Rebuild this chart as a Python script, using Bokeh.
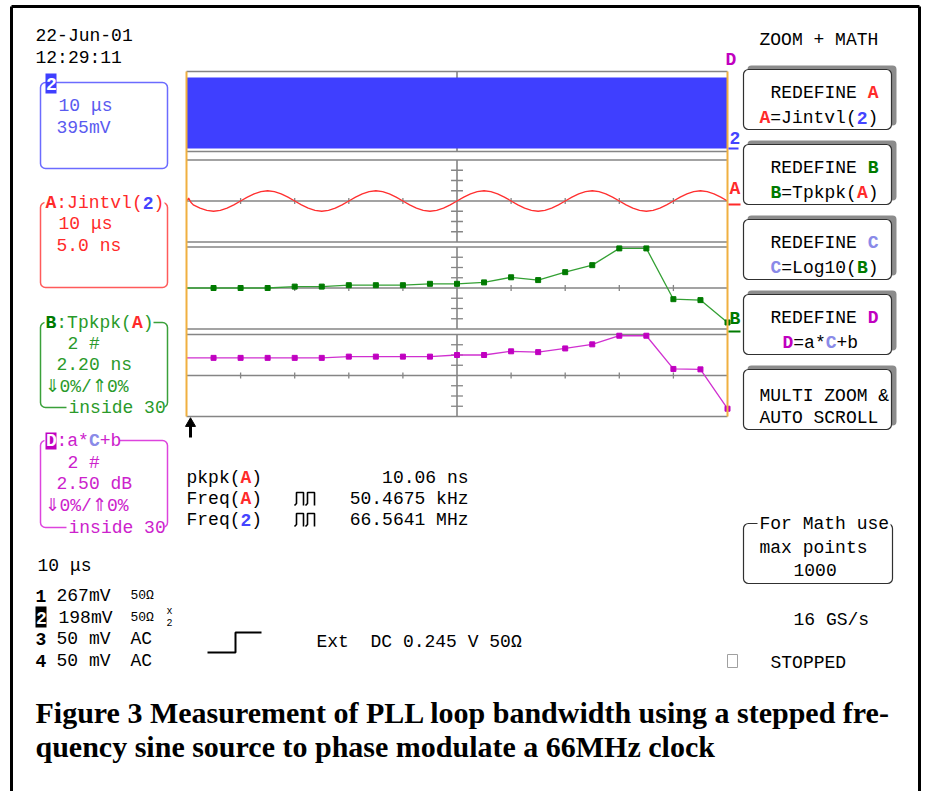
from bokeh.plotting import figure
from bokeh.models import Range1d, ColumnDataSource
from bokeh.core.properties import value
from bokeh.embed import file_html
from bokeh.resources import INLINE

# ---------------- data ----------------
stamp = ["22-Jun-01", "12:29:11"]

# channel 2: 66 MHz clock at 10 us/div, 395 mV/div -> drawn as its dense envelope
clk_t_us = [0, 100]
clk_hi_mV = [1340, 1340]
clk_lo_mV = [-1460, -1460]

# A = Jintvl(2), 5.0 ns/div
jit_t_us = [0, 0.4, 0.8, 1.25, 2.5, 3.75, 5, 6.25, 7.5, 8.75,
            10, 11.25, 12.5, 13.75, 15, 16.25, 17.5, 18.75,
            20, 21.25, 22.5, 23.75, 25, 26.25, 27.5, 28.75,
            30, 31.25, 32.5, 33.75, 35, 36.25, 37.5, 38.75,
            40, 41.25, 42.5, 43.75, 45, 46.25, 47.5, 48.75,
            50, 51.25, 52.5, 53.75, 55, 56.25, 57.5, 58.75,
            60, 61.25, 62.5, 63.75, 65, 66.25, 67.5, 68.75,
            70, 71.25, 72.5, 73.75, 75, 76.25, 77.5, 78.75,
            80, 81.25, 82.5, 83.75, 85, 86.25, 87.5, 88.75,
            90, 91.25, 92.5, 93.75, 95, 96.25, 97.5, 98.75, 100]
jit_ns = [0.0, 1.4, -0.6, -1.9, -3.5, -4.6, -5.0, -4.6, -3.5, -1.9,
          0.0, 1.9, 3.5, 4.6, 5.0, 4.6, 3.5, 1.9,
          0.0, -1.9, -3.5, -4.6, -5.0, -4.6, -3.5, -1.9,
          0.0, 1.9, 3.5, 4.6, 5.0, 4.6, 3.5, 1.9,
          0.0, -1.9, -3.5, -4.6, -5.0, -4.6, -3.5, -1.9,
          0.0, 1.9, 3.5, 4.6, 5.0, 4.6, 3.5, 1.9,
          0.0, -1.9, -3.5, -4.6, -5.0, -4.6, -3.5, -1.9,
          0.0, 1.9, 3.5, 4.6, 5.0, 4.6, 3.5, 1.9,
          0.0, -1.9, -3.5, -4.6, -5.0, -4.6, -3.5, -1.9,
          0.0, 1.9, 3.5, 4.6, 5.0, 4.6, 3.5, 1.9, 0.0]

# B = Tpkpk(A), 2.20 ns/div ; D = a*C+b, 2.50 dB/div (first sample = trace start)
trend_t_us = [0, 5, 10, 15, 20, 25, 30, 35, 40, 45, 50,
              55, 60, 65, 70, 75, 80, 85, 90, 95, 100]
tpk_ns = [10.0, 10.0, 10.0, 10.0, 10.3, 10.3, 10.6, 10.6, 10.6, 10.9, 10.9,
          11.2, 12.3, 11.7, 13.4, 14.9, 18.5, 18.5, 7.6, 7.4, 2.6]
gain_dB = [4.3, 4.3, 4.3, 4.3, 4.3, 4.3, 4.6, 4.6, 4.6, 4.6, 5.0,
           5.0, 5.9, 5.7, 6.6, 7.6, 9.7, 9.7, 1.6, 1.5, -8.1]

meas_labels = [("pkpk(", "A", ")"), ("Freq(", "A", ")"), ("Freq(", "2", ")")]
meas_values = ["10.06 ns", "50.4675 kHz", "66.5641 MHz"]

# ---------------- styles ----------------
MONO = "Liberation Mono"
FS = 18
CW = 0.6 * FS
BLUE, BLUE_T = "#3f3fff", "#5a5af0"
RED = "#ff2a2a"
GREEN, GREEN_D = "#34a034", "#007a00"
MAG, MAG_D = "#d030d0", "#c000c0"
LAV = "#8a8ae8"
GRAY = "#858585"
ORANGE = "#f0b040"

W, H = 925, 791
p = figure(width=W, height=H, x_range=Range1d(0, W), y_range=Range1d(H, 0),
           x_axis_type=None, y_axis_type=None, toolbar_location=None,
           output_backend="svg", min_border=0, outline_line_color=None)
p.background_fill_color = "white"
p.border_fill_color = "white"

# ---- scope display geometry ----
GX0, GX1 = 186, 727
t_per_px = 100.0 / (GX1 - GX0)
p.extra_x_ranges = {"t": Range1d(-GX0 * t_per_px, (W - GX0) * t_per_px)}
panels = {  # name: (centre px, px per div, units per div, centre value)
    "ch2": (111, 10.0, 395.0, 0.0),
    "A": (200.5, 10.25, 5.0, 0.0),
    "B": (287.5, 10.25, 2.2, 10.0),
    "D": (375.0, 10.25, 2.5, 0.0),
}
for name, (cpx, ppd, upd, cv) in panels.items():
    upp = upd / ppd
    p.extra_y_ranges[name] = Range1d(cv - (H - cpx) * upp, cv + cpx * upp)

# graticule
for name, (cpx, ppd, upd, cv) in panels.items():
    lo, hi = cv - 4 * upd, cv + 4 * upd
    kw = dict(x_range_name="t", y_range_name=name, line_color=GRAY)
    p.segment(x0=[0, 0, 0], x1=[100, 100, 100], y0=[lo, hi, cv], y1=[lo, hi, cv],
              line_width=1.6, **kw)
    p.segment(x0=[50], x1=[50], y0=[lo], y1=[hi], line_width=1.6, **kw)
    xt = [10, 20, 30, 40, 60, 70, 80, 90]
    p.segment(x0=xt, x1=xt, y0=[cv - 0.3 * upd] * 8, y1=[cv + 0.3 * upd] * 8,
              line_width=1.3, **kw)
    yt = [cv + k * upd for k in (-3, -2, -1, 1, 2, 3)]
    p.segment(x0=[48.9] * 6, x1=[51.1] * 6, y0=yt, y1=yt, line_width=1.3, **kw)

# traces
p.varea(x=clk_t_us, y1=clk_lo_mV, y2=clk_hi_mV, fill_color=BLUE,
        x_range_name="t", y_range_name="ch2")
p.line(jit_t_us, jit_ns, line_color="#ff3030", line_width=1.3,
       x_range_name="t", y_range_name="A")
p.line(trend_t_us, tpk_ns, line_color=GREEN, line_width=1.3,
       x_range_name="t", y_range_name="B")
p.scatter(trend_t_us[1:], tpk_ns[1:], marker="square", size=5, color=GREEN_D,
          x_range_name="t", y_range_name="B")
p.line(trend_t_us, gain_dB, line_color=MAG, line_width=1.3,
       x_range_name="t", y_range_name="D")
p.scatter(trend_t_us[1:], gain_dB[1:], marker="square", size=5, color=MAG_D,
          x_range_name="t", y_range_name="D")

# display edges, frame
p.segment(x0=[GX0, GX1], x1=[GX0, GX1], y0=[71, 71], y1=[416, 416],
          line_color=ORANGE, line_width=2)
p.segment(x0=[11, 11, 919], x1=[919, 11, 919], y0=[6, 6, 6], y1=[6, H, H],
          line_color="black", line_width=3)

# trace level markers right of the grid
p.segment(x0=[728, 728, 728], x1=[738, 740, 740], y0=[148, 204, 331], y1=[148, 204, 331],
          line_color=[BLUE, RED, GREEN_D], line_width=2)
# trigger point arrow
p.segment(x0=[190], x1=[190], y0=[437], y1=[424], line_color="black", line_width=3)
p.scatter([190], [423], marker="triangle", size=10, color="black")

# ---------------- boxes ----------------
lb = dict(left=[40, 40, 40, 40], right=[167, 167, 167, 167],
          top=[82, 202, 322, 440], bottom=[168, 287, 407, 527])
p.quad(**lb, fill_color=None, line_color=["#6b6bff", "#ff5a5a", "#3aa03a", "#dd44dd"],
       line_width=1.5, border_radius=5)

btn_top = [69, 144, 219, 294, 369]
p.quad(left=[747] * 5, right=[896] * 5, top=[t - 4 for t in btn_top],
       bottom=[t + 56 for t in btn_top], fill_color="#8c8c8c", line_color=None,
       border_radius=4)
p.quad(left=[743] * 5, right=[891] * 5, top=btn_top, bottom=[t + 60 for t in btn_top],
       fill_color="white", line_color="#303030", line_width=1.2, border_radius=5)
p.quad(left=[743], right=[892], top=[523], bottom=[583], fill_color=None,
       line_color="#303030", line_width=1.2, border_radius=5)
p.quad(left=[727], right=[737], top=[654], bottom=[667], fill_color=None,
       line_color="#a0a0a0", line_width=1)

# masks where titles break the box borders
p.quad(left=[44, 44, 66, 44, 66, 757], right=[164, 153, 164, 119, 164, 890],
       top=[193, 313, 398, 431, 518, 514], bottom=[211, 331, 416, 449, 536, 532],
       fill_color="white", line_color=None)

# inverse badges
p.quad(left=[45, 45, 35], right=[56, 56, 46], top=[73, 432, 606], bottom=[93, 449, 627],
       fill_color=[BLUE, MAG_D, "black"], line_color=None)

# trigger step symbol and pulse-train glyphs
p.line([207, 235, 235, 261], [652, 652, 632, 632], line_color="black", line_width=2)
px = []
py = []
for yc in (498, 519):
    for x0 in (294, 305):
        px.append([x0, x0 + 2, x0 + 2, x0 + 9, x0 + 9])
        py.append([yc + 7, yc + 5, yc - 6, yc - 6, yc + 7])
p.multi_line(px, py, line_color="black", line_width=1.6)

# ---------------- texts ----------------
T = dict(x=[], y=[], text=[], color=[], style=[], size=[], font=[])


def put(x, y, s, color="black", bold=False, size=FS, font=MONO):
    T["x"].append(x)
    T["y"].append(y)
    T["text"].append(s)
    T["color"].append(color)
    T["style"].append("bold" if bold else "normal")
    T["size"].append(f"{size}px")
    T["font"].append(font)


def run(x, y, parts, size=FS):
    for s, c, b in parts:
        put(x, y, s, c, b, size)
        x += len(s) * 0.6 * size


put(35, 35, stamp[0])
put(35, 57, stamp[1])

# channel 2 box
put(45.5, 83, "2", "white", True)
put(58, 105, "10 μs", BLUE_T)
put(56, 127, "395mV", BLUE_T)
# A box
run(45, 202, [("A", RED, True), (":Jintvl(", RED, False), ("2", "#4444ff", True), (")", RED, False)])
put(58, 223, "10 μs", RED)
put(56, 245, "5.0 ns", RED)
# B box
run(45, 322, [("B", GREEN_D, True), (":Tpkpk(", "#2a9a2a", False), ("A", RED, True), (")", "#2a9a2a", False)])
put(67, 343, "2 #", "#2a9a2a")
put(56, 364, "2.20 ns", "#2a9a2a")
put(44, 386, "⇓0%/⇑0%", "#2a9a2a")
put(68, 407, "inside 30", "#2a9a2a")
# D box
put(45.5, 440, "D", "white", True)
run(56, 440, [(":a*", "#cc22cc", False), ("C", LAV, True), ("+b", "#cc22cc", False)])
put(67, 462, "2 #", "#cc22cc")
put(56, 483, "2.50 dB", "#cc22cc")
put(44, 505, "⇓0%/⇑0%", "#cc22cc")
put(68, 527, "inside 30", "#cc22cc")

# channel list
put(37, 565, "10 μs")
put(35, 595, "1", "black", True)
put(56, 595, "267mV")
put(130, 595, "50Ω", size=13)
put(35.5, 617, "2", "white", True)
put(58, 617, "198mV")
put(130, 617, "50Ω", size=13)
put(166, 611, "x", size=10)
put(166, 622, "2", size=10)
put(35, 638, "3", "black", True)
put(56, 638, "50 mV")
put(130, 638, "AC")
put(35, 660, "4", "black", True)
put(56, 660, "50 mV")
put(130, 660, "AC")

# measurements
for i, ((a, src, b), v) in enumerate(zip(meas_labels, meas_values)):
    y = 477 + 21 * i
    run(186, y, [(a, "black", False), (src, RED if src == "A" else "#4444ff", True), (b, "black", False)])
    put(468 - len(v) * CW, y, v)
put(316, 641, "Ext")
put(370, 641, "DC 0.245 V 50Ω")

# right-hand menu
put(759, 39, "ZOOM + MATH")
menu = [
    ([("REDEFINE ", "black", False), ("A", RED, True)],
     759, [("A", RED, True), ("=Jintvl(", "black", False), ("2", "#4444ff", True), (")", "black", False)]),
    ([("REDEFINE ", "black", False), ("B", GREEN_D, True)],
     770, [("B", GREEN_D, True), ("=Tpkpk(", "black", False), ("A", RED, True), (")", "black", False)]),
    ([("REDEFINE ", "black", False), ("C", LAV, True)],
     770, [("C", LAV, True), ("=Log10(", "black", False), ("B", GREEN_D, True), (")", "black", False)]),
    ([("REDEFINE ", "black", False), ("D", MAG_D, True)],
     782, [("D", MAG_D, True), ("=a*", "black", False), ("C", LAV, True), ("+b", "black", False)]),
]
for (l1, x2, l2), t in zip(menu, btn_top):
    run(770, t + 23, l1)
    run(x2, t + 48, l2)
put(759, btn_top[4] + 26, "MULTI ZOOM &")
put(759, btn_top[4] + 48, "AUTO SCROLL")
put(759, 523, "For Math use")
put(759, 547, "max points")
put(793, 569, "1000")
put(793, 619, "16 GS/s")
put(770, 662, "STOPPED")

# level letters
put(729, 137, "2", "#4444ff", True)
put(729, 188, "A", RED, True)
put(729, 318, "B", GREEN_D, True)
put(725, 59, "D", MAG_D, True)

# caption
put(35, 712, "Figure 3 Measurement of PLL loop bandwidth using a stepped fre-",
    "black", True, 30, "Liberation Serif")
put(35, 746, "quency sine source to phase modulate a 66MHz clock",
    "black", True, 30, "Liberation Serif")

p.text(x="x", y="y", text="text", text_color="color", text_font_style="style",
       text_font_size="size", text_font="font", source=ColumnDataSource(T),
       text_baseline="middle", text_align="left")

open("out.html", "w").write(file_html(p, INLINE))
